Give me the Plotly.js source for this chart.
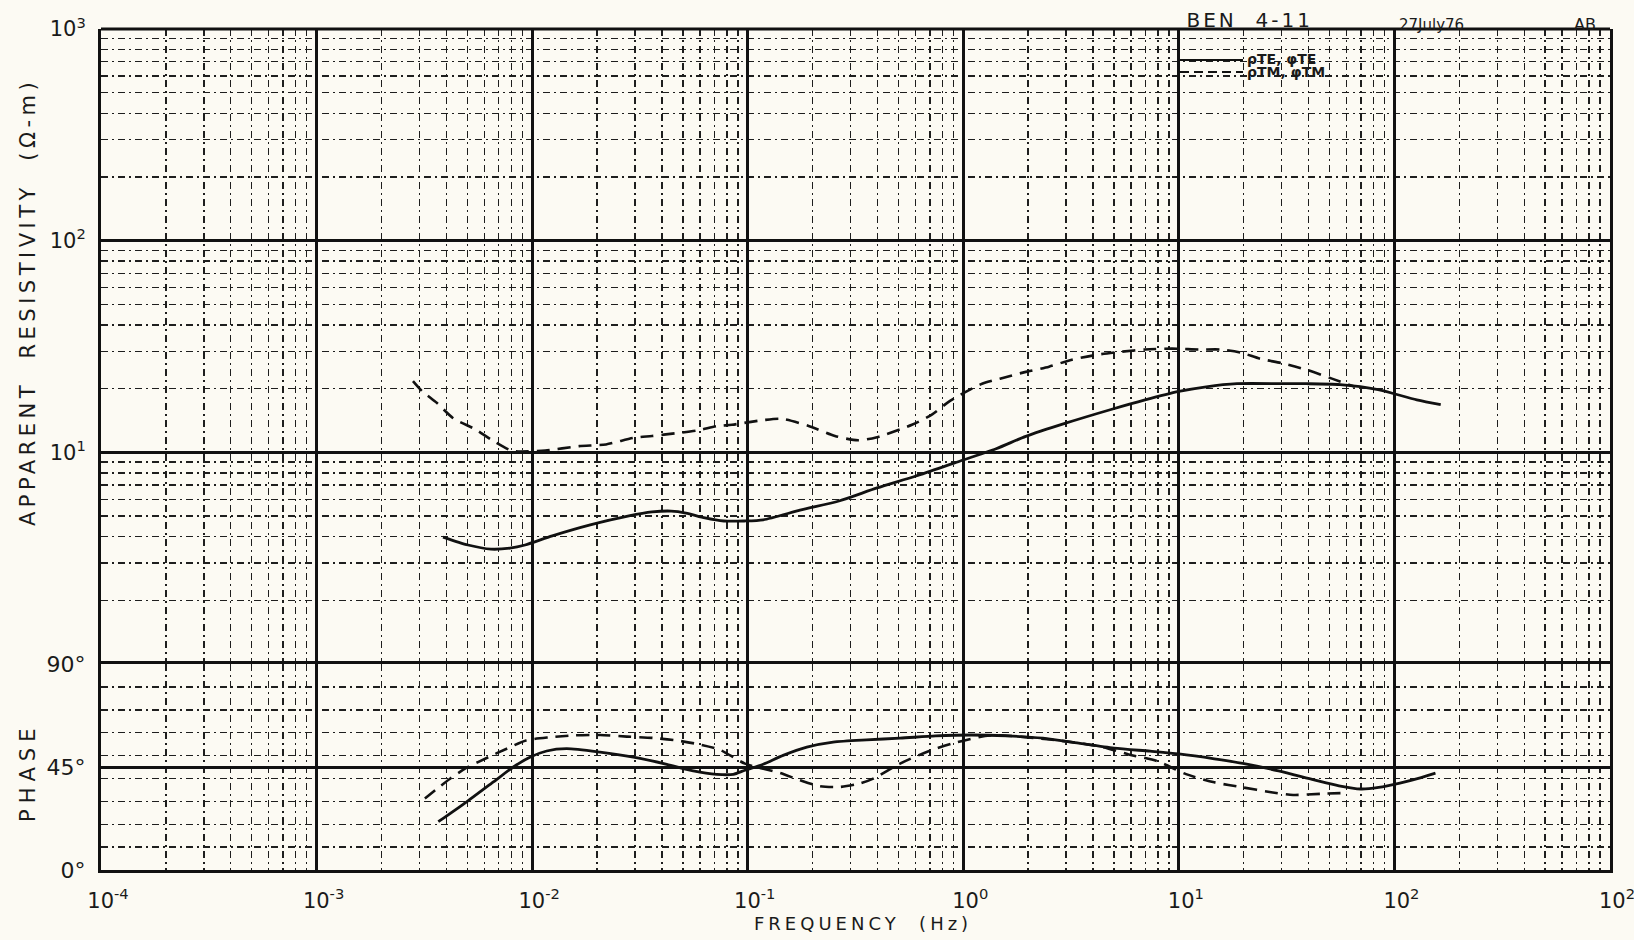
<!DOCTYPE html>
<html>
<head>
<meta charset="utf-8">
<script src="https://cdn.plot.ly/plotly-3.0.1.min.js"></script>
<style>
  html, body { margin: 0; padding: 0; background: #fcfaf3; }
  #chart { width: 1634px; height: 940px; }
</style>
</head>
<body>
<div id="chart"></div>
<script>
// ---- Data (frequency in Hz) ----
const freqRhoTE = [0.00386, 0.00504, 0.00644, 0.00789, 0.00927, 0.0124, 0.0186, 0.0281, 0.036, 0.0441, 0.0517, 0.0634, 0.0776, 0.0962, 0.118, 0.177, 0.265, 0.398, 0.603, 0.906, 1.42, 1.95, 2.96, 4.80, 6.97, 10.0, 13.4, 18.6, 30.4, 38.9, 56, 84, 127, 164];
const rhoTE     = [3.98, 3.65, 3.49, 3.53, 3.65, 4.03, 4.54, 5.01, 5.23, 5.28, 5.17, 4.90, 4.74, 4.74, 4.80, 5.35, 5.89, 6.79, 7.73, 8.9, 10.4, 11.9, 13.7, 15.9, 17.7, 19.4, 20.4, 21.1, 21.1, 21.1, 20.9, 19.8, 17.7, 16.8];

const freqRhoTM = [0.0028, 0.00308, 0.00362, 0.0043, 0.00549, 0.00644, 0.00789, 0.0086, 0.0115, 0.0165, 0.022, 0.0294, 0.036, 0.0461, 0.0588, 0.072, 0.0845, 0.118, 0.144, 0.193, 0.254, 0.325, 0.398, 0.578, 0.709, 0.868, 1.196, 1.48, 1.95, 2.50, 3.19, 4.26, 5.45, 6.97, 9.29, 12.4, 15.7, 19.4, 23.8, 30.4, 38.9, 51.3, 65.6];
const rhoTM     = [21.7, 19.5, 17.1, 14.5, 12.8, 11.5, 10.25, 10.1, 10.2, 10.7, 10.9, 11.7, 11.95, 12.3, 12.7, 13.3, 13.5, 14.2, 14.4, 13.3, 11.95, 11.4, 11.8, 13.5, 15.0, 17.5, 20.9, 22.3, 24.0, 25.4, 27.4, 29.0, 29.9, 30.6, 30.9, 30.6, 30.6, 29.6, 27.7, 26.3, 24.6, 22.3, 20.4];

const freqPhiTE = [0.00367, 0.00497, 0.00661, 0.00818, 0.00977, 0.01168, 0.01445, 0.02065, 0.02946, 0.0421, 0.0559, 0.0718, 0.0857, 0.0971, 0.118, 0.146, 0.188, 0.249, 0.356, 0.509, 0.745, 1.09, 1.60, 2.34, 3.43, 5.00, 7.35, 10.0, 14.6, 19.8, 29.0, 42.4, 55.3, 69.8, 84.5, 106, 133, 155];
const phiTE     = [21.1, 29.8, 38.5, 45.0, 49.3, 52.0, 53.0, 51.5, 49.3, 46.2, 43.3, 41.8, 41.8, 43.6, 46.2, 50.1, 53.7, 55.9, 56.9, 57.6, 58.6, 59.0, 58.6, 57.6, 55.4, 53.3, 51.9, 50.7, 48.6, 46.6, 43.3, 39.4, 36.8, 35.4, 36.1, 38.0, 40.4, 42.3];

const freqPhiTM = [0.00318, 0.00416, 0.00497, 0.00626, 0.00762, 0.00937, 0.0121, 0.0155, 0.02065, 0.0275, 0.0365, 0.0468, 0.058, 0.0744, 0.0971, 0.141, 0.175, 0.2165, 0.268, 0.332, 0.382, 0.509, 0.690, 0.902, 1.33, 2.53, 4.31, 5.85, 7.92, 10.8, 14.6, 19.8, 26.8, 33.9, 45.6, 59.6];
const phiTM     = [31.2, 39.9, 44.7, 49.3, 53.0, 56.6, 58.0, 58.8, 59.0, 58.3, 57.7, 56.6, 55.1, 52.5, 46.5, 42.4, 39.2, 36.6, 36.3, 37.8, 39.9, 46.5, 51.9, 55.4, 58.8, 57.0, 54.0, 50.5, 47.6, 41.9, 38.3, 36.1, 34.0, 32.8, 33.3, 33.7];

// ---- Tick labels ----
const xTickVals = [1e-4, 1e-3, 1e-2, 1e-1, 1e0, 1e1, 1e2, 1e3];
const xTickText = ['10<sup>-4</sup>', '10<sup>-3</sup>', '10<sup>-2</sup>', '10<sup>-1</sup>', '10<sup>0</sup>', '10<sup>1</sup>', '10<sup>2</sup>', '10<sup>2</sup>'];
const rhoTickVals = [10, 100, 1000];
const rhoTickText = ['10<sup>1</sup>', '10<sup>2</sup>', '10<sup>3</sup>'];
const phiTickVals = [0, 45, 90];
const phiTickText = ['0°', '45°', '90°'];
const phiMinorVals = [10, 20, 30, 40, 50, 60, 70, 80];

// minor (graph-paper) positions: 2..9 of each decade
function logMinor(e0, e1) {
  const v = [];
  for (let e = e0; e < e1; e++) for (let d = 2; d <= 9; d++) v.push(d * Math.pow(10, e));
  return v;
}
const xMinorVals = logMinor(-4, 3);
const rhoMinorVals = logMinor(0, 3);

const INK = '#111111';
const PAPER = '#fcfaf3';
const FONT = 'DejaVu Sans';
const TXT = '#1a1a1a';
const minorGrid = { showgrid: true, gridcolor: '#1e1e1e', gridwidth: 1.4, griddash: '7px,4px,2px,4px', ticks: '' };

const solid = { color: INK, width: 2.8, shape: 'spline', smoothing: 0.7 };
const dashed = { color: INK, width: 2.6, shape: 'spline', smoothing: 0.7, dash: '13px,8px' };

const traces = [
  { x: freqRhoTE, y: rhoTE, xaxis: 'x', yaxis: 'y', mode: 'lines', line: solid, name: 'ρTE', showlegend: false },
  { x: freqRhoTM, y: rhoTM, xaxis: 'x', yaxis: 'y', mode: 'lines', line: dashed, name: 'ρTM', showlegend: false },
  { x: freqPhiTE, y: phiTE, xaxis: 'x', yaxis: 'y2', mode: 'lines', line: solid, name: 'φTE', showlegend: false },
  { x: freqPhiTM, y: phiTM, xaxis: 'x', yaxis: 'y2', mode: 'lines', line: dashed, name: 'φTM', showlegend: false }
];

const L = 101, R = 24, T = 29, B = 70;
const W = 1634, H = 940;
const pw = W - L - R, ph = H - T - B;
const px = X => (X - L) / pw;           // page px -> paper x
const py = Y => (H - B - Y) / ph;       // page px -> paper y
const phaseTop = 0.2449;

const layout = {
  width: W, height: H,
  margin: { l: L, r: R, t: T, b: B },
  paper_bgcolor: PAPER, plot_bgcolor: PAPER,
  font: { family: FONT, color: TXT },
  showlegend: false,
  xaxis: {
    type: 'log', range: [-4, 3], domain: [0, 1], anchor: 'y2',
    tickmode: 'array', tickvals: xTickVals, ticktext: xTickText,
    tickfont: { size: 21, family: FONT, color: TXT },
    ticks: '', ticklabelshift: 7, ticklabelstandoff: 10, ticklabeloverflow: 'allow',
    showgrid: true, gridcolor: INK, gridwidth: 3,
    showline: true, linecolor: INK, linewidth: 3, mirror: true,
    zeroline: false,
    minor: Object.assign({ tickmode: 'array', tickvals: xMinorVals }, minorGrid)
  },
  yaxis: {
    type: 'log', range: [0, 3], domain: [phaseTop, 1], anchor: 'x',
    tickmode: 'array', tickvals: rhoTickVals, ticktext: rhoTickText,
    tickfont: { size: 21, family: FONT, color: TXT },
    ticks: '', ticklabelstandoff: 8,
    showgrid: true, gridcolor: INK, gridwidth: 3,
    showline: true, linecolor: INK, linewidth: 3, mirror: true,
    zeroline: false,
    minor: Object.assign({ tickmode: 'array', tickvals: rhoMinorVals }, minorGrid)
  },
  yaxis2: {
    type: 'linear', range: [0, 90], domain: [0, phaseTop], anchor: 'x',
    tickmode: 'array', tickvals: phiTickVals, ticktext: phiTickText,
    tickfont: { size: 22, family: FONT, color: TXT },
    ticks: '', ticklabelstandoff: 8,
    showgrid: true, gridcolor: INK, gridwidth: 3,
    showline: true, linecolor: INK, linewidth: 3, mirror: true,
    zeroline: false,
    minor: Object.assign({ tickmode: 'array', tickvals: phiMinorVals }, minorGrid)
  },
  shapes: [
    // top frame edge of the chart paper
    { type: 'line', xref: 'paper', yref: 'paper', x0: 0, x1: 1, y0: 1, y1: 1, line: { color: INK, width: 3 } },
    // hand-drawn legend samples
    { type: 'line', xref: 'paper', yref: 'paper', x0: px(1179), x1: px(1243), y0: py(60), y1: py(60), line: { color: INK, width: 2 } },
    { type: 'line', xref: 'paper', yref: 'paper', x0: px(1180), x1: px(1243), y0: py(72), y1: py(72), line: { color: INK, width: 2, dash: '9px,5px' } }
  ],
  annotations: [
    { text: 'APPARENT  RESISTIVITY  (Ω-m)', xref: 'paper', yref: 'paper', x: px(28), y: py(302), textangle: -90, showarrow: false, xanchor: 'center', yanchor: 'middle', font: { size: 21, family: FONT, color: TXT } },
    { text: 'PHASE', xref: 'paper', yref: 'paper', x: px(28), y: py(773), textangle: -90, showarrow: false, xanchor: 'center', yanchor: 'middle', font: { size: 21, family: FONT, color: TXT } },
    { text: 'FREQUENCY  (Hz)', xref: 'paper', yref: 'paper', x: px(863), y: py(923), showarrow: false, xanchor: 'center', yanchor: 'middle', font: { size: 18, family: FONT, color: TXT } },
    { text: 'BEN  4-11', xref: 'paper', yref: 'paper', x: px(1249), y: py(20), showarrow: false, xanchor: 'center', yanchor: 'middle', font: { size: 20, family: FONT, color: TXT } },
    { text: '27July76', xref: 'paper', yref: 'paper', x: px(1431), y: py(25), showarrow: false, xanchor: 'center', yanchor: 'middle', font: { size: 15, family: FONT, color: TXT } },
    { text: 'AB', xref: 'paper', yref: 'paper', x: px(1585), y: py(24), showarrow: false, xanchor: 'center', yanchor: 'middle', font: { size: 16, family: FONT, color: TXT } },
    { text: '<b>ρTE, φTE</b>', xref: 'paper', yref: 'paper', x: px(1245), y: py(59), showarrow: false, xanchor: 'left', yanchor: 'middle', font: { size: 14, family: FONT, color: TXT } },
    { text: '<b>ρTM, φTM</b>', xref: 'paper', yref: 'paper', x: px(1245), y: py(72), showarrow: false, xanchor: 'left', yanchor: 'middle', font: { size: 14, family: FONT, color: TXT } }
  ]
};

Plotly.newPlot('chart', traces, layout, { displayModeBar: false, staticPlot: true }).then(() => {
  const spacing = { 'APPARENT  RESISTIVITY  (Ω-m)': '4.5px', 'PHASE': '6px', 'FREQUENCY  (Hz)': '4px', 'BEN  4-11': '3px' };
  document.querySelectorAll('.annotation-text').forEach(el => {
    const s = spacing[el.textContent];
    if (s) el.style.letterSpacing = s;
  });
});
</script>
</body>
</html>
